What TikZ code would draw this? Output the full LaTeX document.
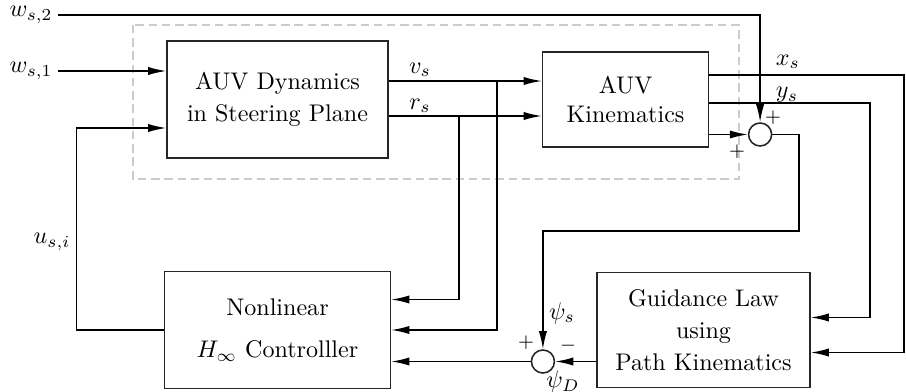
\documentclass[tikz,border=0pt]{standalone}
\usepackage{amsmath}
\usepackage{tikz}
\usetikzlibrary{arrows.meta, positioning, calc}

\begin{document}
\begin{tikzpicture}[
  x=0.0146cm, y=0.0146cm,
  blk/.style n args={2}{rectangle, draw=black!85, line width=0.65pt,
               minimum width=#1, minimum height=#2, align=center},
  sumc/.style={circle, draw=black!85, line width=0.65pt, minimum size=0.336cm, inner sep=0pt},
  arr/.style={-{Latex[length=7.5pt,width=3.4pt]}, line width=0.6pt},
  grpbox/.style={draw=gray!40, line width=0.6pt, dash pattern=on 3.5pt off 2pt},
  lbl/.style={inner sep=2pt},
  sgn/.style={font=\footnotesize, inner sep=0pt}
]
\useasboundingbox (0,0) rectangle (906,392);

% Steering plant inside dashed group
\draw[grpbox] (133,367) rectangle (739,213);
\node[blk={3.227cm}{1.708cm}] (dyn) at (277.5,292.5) {AUV Dynamics\\[1.3pt]in Steering Plane};
\node[blk={2.424cm}{1.387cm}, right=2.234cm of dyn] (kin) {AUV\\Kinematics};

% Lower row: controller and guidance
\node[blk={3.30cm}{1.708cm}, below=1.635cm of dyn] (ctrl) {Nonlinear\\[5.4pt]$H_\infty$ Controlller};
\node[blk={3.11cm}{1.68cm}, right=2.993cm of ctrl] (guid) {Guidance Law\\[1.3pt]using\\[1.3pt]Path Kinematics};

% Summing junctions
\node[sumc, right=0.562cm of kin.east, yshift=-0.511cm] (sum1) {};
\node[sumc, left=0.599cm of guid.west, yshift=-0.46cm] (sum2) {};

% Inputs and labels
\node[lbl] (w2) at (31,377) {$w_{s,2}$};
\node[lbl] (w1) at (31,321) {$w_{s,1}$};
\node[lbl] (usi) at (52,150) {$u_{s,i}$};
\node[lbl] (vsl) at (420,322) {$v_s$};
\node[lbl] (rsl) at (420,286) {$r_s$};
\node[lbl] (xsl) at (788,330) {$x_s$};
\node[lbl] (ysl) at (787,297) {$y_s$};
\node[lbl] (psis) at (562,79) {$\psi_s$};
\node[lbl] (psid) at (563,10.5) {$\psi_D$};
\node[sgn] (p1) at (773,274) {$+$};
\node[sgn] (p2) at (737,240) {$+$};
\node[sgn] (p3) at (526,49) {$+$};
\node[sgn] (m1) at (568,46) {$-$};

% Plant signals
\coordinate (vs) at ($(dyn.east)+(0,18.5)$);
\coordinate (rs) at ($(dyn.east)+(0,-16.5)$);
\coordinate (vsb) at ($(vs)+(108,0)$);
\coordinate (rsb) at ($(rs)+(70,0)$);
\draw[arr] (w2) -| (sum1.north);
\draw[arr] (w1) -- (w1 -| dyn.west);
\draw[arr] (vs) -- (vs -| kin.west);
\draw[arr] (rs) -- (rs -| kin.west);
\draw[arr] (vsb) |- (ctrl.east);
\draw[arr] (rsb) |- ($(ctrl.east)+(0,30.5)$);

% Kinematics outputs
\coordinate (xs) at ($(kin.east)+(0,24.5)$);
\coordinate (ys) at ($(kin.east)+(0,-3.5)$);
\draw[arr] (kin.east |- sum1) -- (sum1.west);
\draw[arr] (xs) -| ($(guid.east)+(93,-22.5)$) -- ($(guid.east)+(0,-22.5)$);
\draw[arr] (ys) -| ($(guid.east)+(59,12.5)$) -- ($(guid.east)+(0,12.5)$);

% Heading loop
\draw[arr] (sum1.east) -| ($(sum1.east)+(26.5,-96.5)$) -| (sum2.north);
\draw[arr] (sum2.east -| guid.west) -- (sum2.east);
\draw[arr] (sum2.west) -- (sum2.west -| ctrl.east);

% Control feedback
\coordinate (fb) at ($(ctrl.west)+(-87,0)$);
\draw[arr] (ctrl.west) -- (fb) |- ($(dyn.west)+(0,-28.5)$);

\end{tikzpicture}
\end{document}
